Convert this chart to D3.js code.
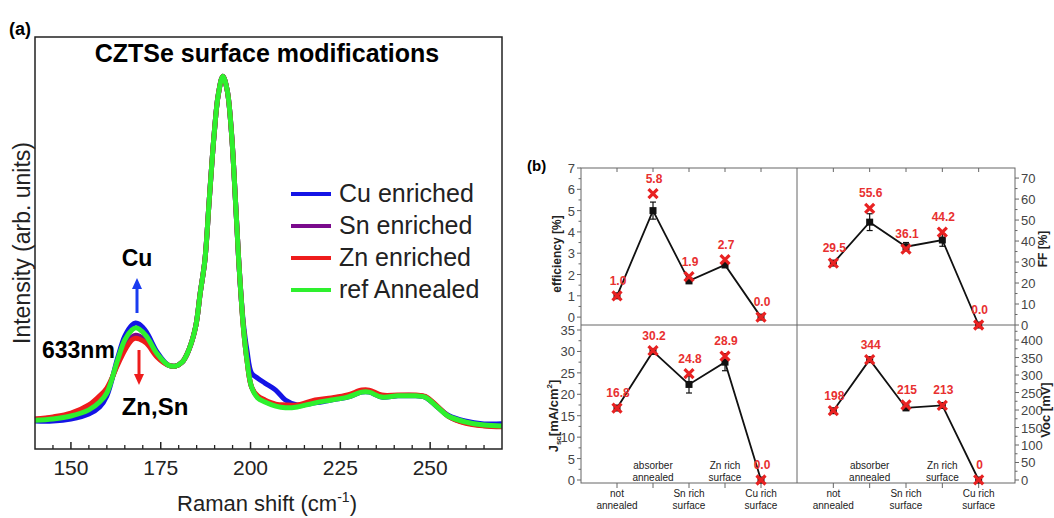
<!DOCTYPE html>
<html>
<head>
<meta charset="utf-8">
<script src="https://cdnjs.cloudflare.com/ajax/libs/d3/7.8.5/d3.min.js"></script>
<style>
  body { margin: 0; background: #fff; }
  svg { font-family: "Liberation Sans", Arial, sans-serif; }
</style>
</head>
<body>
<div id="chart"></div>
<script>
// ---- panel (a): Raman spectra ----
const shift = [140,145,150,155,158,160,163,165,167,168,169,171,174,177,179,181,182.8,184.7,186,187.3,
  188.5,189.9,191,192.3,193.5,194.7,195.8,196.7,197.3,198,199,200.3,202,204,207,209.7,213,218,222.5,227,
  231,233,236.5,241,246,248.6,252,255,259.7,265,270];
const cuEnriched = [68,68,73,85,102,129,221,274,301,306,303,284,235,204,201,211,240,296,379,459,
  604,767,859,905,871,767,604,459,379,306,240,184,172,160,143,119,107,112,119,126,
  138,138,126,129,129,126,102,82,68,61,61];
const snEnriched = [72,76,84,102,122,142,208,248,272,276,274,262,226,204,201,211,240,296,379,459,
  604,767,859,905,871,767,604,459,379,296,216,150,126,116,106,103,104,115,121,128,
  140,140,128,130,130,127,103,80,64,57,55];
const znEnriched = [73,78,87,107,129,148,204,240,265,269,267,257,223,204,201,211,240,296,379,459,
  604,767,859,905,871,767,604,459,379,296,216,150,129,119,109,107,107,119,124,131,
  143,143,131,131,131,128,104,80,63,56,54];
const refAnnealed = [70,73,80,95,114,136,216,265,289,294,291,274,231,204,201,211,240,296,379,459,
  604,767,859,905,871,767,604,459,379,296,216,150,124,114,104,100,102,112,119,126,
  138,138,126,129,129,126,102,80,66,58,56];
const seriesNames = ["Cu enriched", "Sn enriched", "Zn enriched", "ref Annealed"];
const seriesColors = ["#1414e6", "#7a0a8c", "#ee1c1c", "#2ef02e"];
const ramanTicks = [150, 175, 200, 225, 250];

// ---- panel (b): device parameters ----
const categories = [["not", "annealed"], ["absorber", "annealed"], ["Sn rich", "surface"], ["Zn rich", "surface"], ["Cu rich", "surface"]];
const effBest = [1.0, 5.8, 1.9, 2.7, 0.0];
const effMean = [1.0, 5.0, 1.7, 2.45, 0.0];
const effErr = [0.05, 0.4, 0.1, 0.12, 0];
const ffBest = [29.5, 55.6, 36.1, 44.2, 0.0];
const ffMean = [29.5, 49.0, 37.3, 40.5, 0.0];
const ffErr = [0.5, 4, 2, 3, 0];
const jscBest = [16.8, 30.2, 24.8, 28.9, 0.0];
const jscMean = [16.8, 30.0, 22.3, 27.5, 0.0];
const jscErr = [0.5, 0.5, 2, 2, 0];
const vocBest = [198, 344, 215, 213, 0];
const vocMean = [198, 344, 206, 213, 0];
const vocErr = [3, 3, 5, 4, 0];

const W = 1054, H = 518;
const svg = d3.select("#chart").append("svg").attr("width", W).attr("height", H);

// ================= panel (a) =================
const ax = d3.scaleLinear().domain([140, 270]).range([35, 502]);
const ay = d3.scaleLinear().domain([0, 1000]).range([449, 37]);

const series = [cuEnriched, snEnriched, znEnriched, refAnnealed];
const line = d3.line()
  .x((d, i) => ax(shift[i]))
  .y(d => ay(d))
  .curve(d3.curveCatmullRom.alpha(0.5));

const plotA = svg.append("g");
series.forEach((s, k) => {
  plotA.append("path")
    .attr("d", line(s))
    .attr("fill", "none")
    .attr("stroke", seriesColors[k])
    .attr("stroke-width", 5)
    .attr("stroke-linejoin", "round");
});

plotA.append("rect")
  .attr("x", 35).attr("y", 37).attr("width", 467).attr("height", 412)
  .attr("fill", "none").attr("stroke", "#222").attr("stroke-width", 1.5);

// bottom ticks, inward
const minorA = d3.range(145, 270, 5).filter(v => !ramanTicks.includes(v));
plotA.selectAll(".mt").data(minorA).enter().append("line")
  .attr("x1", d => ax(d)).attr("x2", d => ax(d))
  .attr("y1", 449).attr("y2", 445)
  .attr("stroke", "#222").attr("stroke-width", 1.3);
plotA.selectAll(".Mt").data(ramanTicks).enter().append("line")
  .attr("x1", d => ax(d)).attr("x2", d => ax(d))
  .attr("y1", 449).attr("y2", 442)
  .attr("stroke", "#222").attr("stroke-width", 1.5);
plotA.selectAll(".tl").data(ramanTicks).enter().append("text")
  .attr("x", d => ax(d)).attr("y", 475)
  .attr("text-anchor", "middle").attr("font-size", 21).attr("fill", "#222")
  .text(d => d);

const xl = plotA.append("text").attr("x", 267).attr("y", 511)
  .attr("text-anchor", "middle").attr("font-size", 22).attr("fill", "#222");
xl.append("tspan").text("Raman shift (cm");
xl.append("tspan").attr("font-size", 14).attr("dy", -9).text("-1");
xl.append("tspan").attr("dy", 9).text(")");

plotA.append("text")
  .attr("transform", "translate(30,243) rotate(-90)")
  .attr("text-anchor", "middle").attr("font-size", 23).attr("fill", "#222")
  .text("Intensity (arb. units)");

plotA.append("text").attr("x", 267).attr("y", 62)
  .attr("text-anchor", "middle").attr("font-size", 25).attr("font-weight", "bold")
  .text("CZTSe surface modifications");
svg.append("text").attr("x", 9).attr("y", 35)
  .attr("font-size", 18).attr("font-weight", "bold").text("(a)");

// legend
const legY = [194, 226, 258, 290];
seriesNames.forEach((n, k) => {
  plotA.append("line").attr("x1", 291).attr("x2", 331)
    .attr("y1", legY[k]).attr("y2", legY[k])
    .attr("stroke", seriesColors[k]).attr("stroke-width", 4);
  plotA.append("text").attr("x", 339).attr("y", legY[k] + 8)
    .attr("font-size", 25).attr("fill", "#222").text(n);
});

// annotations
plotA.append("text").attr("x", 137).attr("y", 266).attr("text-anchor", "middle")
  .attr("font-size", 23).attr("font-weight", "bold").text("Cu");
plotA.append("text").attr("x", 42).attr("y", 358)
  .attr("font-size", 23).attr("font-weight", "bold").text("633nm");
plotA.append("text").attr("x", 155).attr("y", 415).attr("text-anchor", "middle")
  .attr("font-size", 24).attr("font-weight", "bold").text("Zn,Sn");
function arrow(x, yFrom, yTo, color) {
  const dir = yTo < yFrom ? -1 : 1;
  plotA.append("line").attr("x1", x).attr("x2", x)
    .attr("y1", yFrom).attr("y2", yTo - dir * 9)
    .attr("stroke", color).attr("stroke-width", 3);
  plotA.append("path")
    .attr("d", `M${x - 5},${yTo - dir * 11}L${x + 5},${yTo - dir * 11}L${x},${yTo}Z`)
    .attr("fill", color);
}
arrow(137, 313, 278, "#1a3cf0");
arrow(139, 350, 385, "#ee1c1c");

// ================= panel (b) =================
const L = 581, M = 797, R = 1015, T = 168, MID = 325, B = 483;
const xLeft = d3.scaleLinear().domain([0, 6]).range([L, M]);
const xRight = d3.scaleLinear().domain([0, 6]).range([M, R]);

const pb = svg.append("g");
pb.append("rect").attr("x", L).attr("y", T).attr("width", R - L).attr("height", B - T)
  .attr("fill", "none").attr("stroke", "#666").attr("stroke-width", 1);
pb.append("line").attr("x1", L).attr("x2", R).attr("y1", MID).attr("y2", MID)
  .attr("stroke", "#666").attr("stroke-width", 1);
pb.append("line").attr("x1", M).attr("x2", M).attr("y1", T).attr("y2", B)
  .attr("stroke", "#666").attr("stroke-width", 1);

svg.append("text").attr("x", 527).attr("y", 171)
  .attr("font-size", 15).attr("font-weight", "bold").text("(b)");

function panel(o) {
  const g = pb.append("g");
  const x = o.x, y = o.y;
  const cats = d3.range(1, 6);
  // axis ticks
  const axisX = o.side === "left" ? L : R;
  const out = o.side === "left" ? -1 : 1;
  const minor = [];
  o.ticks.forEach(t => minor.push(t + o.step / 2));
  g.selectAll(".maj").data(o.ticks).enter().append("line")
    .attr("x1", axisX).attr("x2", axisX + out * 4)
    .attr("y1", d => y(d)).attr("y2", d => y(d))
    .attr("stroke", "#666");
  g.selectAll(".min").data(minor.filter(v => y(v) >= o.top)).enter().append("line")
    .attr("x1", axisX).attr("x2", axisX + out * 2.5)
    .attr("y1", d => y(d)).attr("y2", d => y(d))
    .attr("stroke", "#666");
  g.selectAll(".tl").data(o.ticks).enter().append("text")
    .attr("x", axisX + out * 6).attr("y", d => y(d) + 5)
    .attr("text-anchor", o.side === "left" ? "end" : "start")
    .attr("font-size", 13).attr("fill", "#444")
    .text(d => d);
  // category ticks
  if (o.row === "top") {
    g.selectAll(".ct").data(cats).enter().append("line")
      .attr("x1", d => x(d)).attr("x2", d => x(d)).attr("y1", T).attr("y2", T + 4)
      .attr("stroke", "#666");
  } else {
    g.selectAll(".ct").data(cats).enter().append("line")
      .attr("x1", d => x(d)).attr("x2", d => x(d)).attr("y1", B).attr("y2", B + 5)
      .attr("stroke", "#666");
    categories.forEach((c, i) => {
      const odd = i % 2 === 0;
      const t = g.append("text").attr("x", x(i + 1)).attr("text-anchor", "middle")
        .attr("font-size", 10).attr("fill", "#222");
      t.append("tspan").attr("x", x(i + 1)).attr("y", odd ? 497 : 469).text(c[0]);
      t.append("tspan").attr("x", x(i + 1)).attr("y", odd ? 509 : 481).text(c[1]);
    });
  }
  // mean line with error bars
  const ln = d3.line().x((d, i) => x(i + 1)).y(d => y(d));
  g.append("path").attr("d", ln(o.mean)).attr("fill", "none")
    .attr("stroke", "#111").attr("stroke-width", 1.8);
  o.mean.forEach((m, i) => {
    const e = o.err[i];
    if (e > 0) {
      g.append("line").attr("x1", x(i + 1)).attr("x2", x(i + 1))
        .attr("y1", y(m - e)).attr("y2", y(m + e)).attr("stroke", "#111").attr("stroke-width", 1.2);
      [m - e, m + e].forEach(v => g.append("line")
        .attr("x1", x(i + 1) - 3).attr("x2", x(i + 1) + 3)
        .attr("y1", y(v)).attr("y2", y(v)).attr("stroke", "#111").attr("stroke-width", 1.2));
    }
    g.append("rect").attr("x", x(i + 1) - 3.5).attr("y", y(m) - 3.5)
      .attr("width", 7).attr("height", 7).attr("fill", "#111");
  });
  // best values: red crosses with labels
  o.best.forEach((b, i) => {
    const cx = x(i + 1), cy = y(b);
    g.append("path")
      .attr("d", `M${cx - 4.5},${cy - 4.5}L${cx + 4.5},${cy + 4.5}M${cx - 4.5},${cy + 4.5}L${cx + 4.5},${cy - 4.5}`)
      .attr("stroke", "#e82222").attr("stroke-width", 3.2);
    g.append("text").attr("x", cx + 1).attr("y", cy - 11)
      .attr("text-anchor", "middle").attr("font-size", 12).attr("font-weight", "bold")
      .attr("fill", "#e83030").text(o.fmt(b));
  });
  return g;
}

const f1 = d3.format(".1f");
panel({ x: xLeft, y: d3.scaleLinear().domain([-0.37, 7]).range([MID, T]), top: T,
  ticks: d3.range(0, 8, 1), step: 1, side: "left", row: "top",
  best: effBest, mean: effMean, err: effErr, fmt: f1 });
panel({ x: xRight, y: d3.scaleLinear().domain([0, 74.8]).range([MID, T]), top: T,
  ticks: d3.range(0, 80, 10), step: 10, side: "right", row: "top",
  best: ffBest, mean: ffMean, err: ffErr, fmt: f1 });
panel({ x: xLeft, y: d3.scaleLinear().domain([-0.7, 36.17]).range([B, MID]), top: MID,
  ticks: d3.range(0, 40, 5), step: 5, side: "left", row: "bottom",
  best: jscBest, mean: jscMean, err: jscErr, fmt: f1 });
panel({ x: xRight, y: d3.scaleLinear().domain([-8.6, 443]).range([B, MID]), top: MID,
  ticks: d3.range(0, 450, 50), step: 50, side: "right", row: "bottom",
  best: vocBest, mean: vocMean, err: vocErr, fmt: d3.format("d") });

// axis titles (b)
pb.append("text").attr("transform", "translate(561,254) rotate(-90)")
  .attr("text-anchor", "middle").attr("font-size", 12).attr("font-weight", "bold")
  .attr("fill", "#222").text("efficiency [%]");
pb.append("text").attr("transform", "translate(1047,249) rotate(-90)")
  .attr("text-anchor", "middle").attr("font-size", 12).attr("font-weight", "bold")
  .attr("fill", "#222").text("FF [%]");
pb.append("text").attr("transform", "translate(1050,410) rotate(-90)")
  .attr("text-anchor", "middle").attr("font-size", 13).attr("font-weight", "bold")
  .attr("fill", "#222").text("Voc [mV]");
const jl = pb.append("text").attr("transform", "translate(558,416) rotate(-90)")
  .attr("text-anchor", "middle").attr("font-size", 13).attr("font-weight", "bold")
  .attr("fill", "#222");
jl.append("tspan").text("J");
jl.append("tspan").attr("font-size", 8).attr("dy", 3).text("sc");
jl.append("tspan").attr("dy", -3).text("[mA/cm");
jl.append("tspan").attr("font-size", 8).attr("dy", -6).text("2");
jl.append("tspan").attr("dy", 6).text("]");
</script>
</body>
</html>
